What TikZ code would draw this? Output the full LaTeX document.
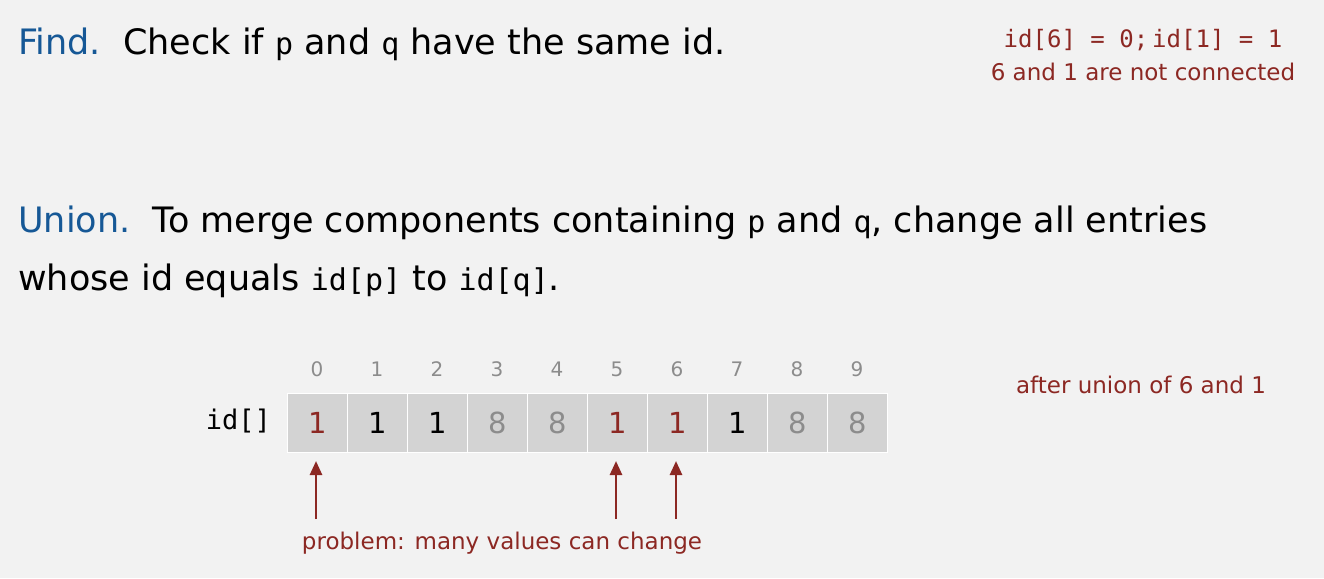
\documentclass[tikz,border=0pt]{standalone}
\usepackage{fontspec}
\setmainfont{DejaVu Sans}
\setsansfont{DejaVu Sans}
\setmonofont{DejaVu Sans Mono}
\usetikzlibrary{arrows.meta}
\definecolor{bg}{RGB}{242,242,242}
\definecolor{cellgray}{RGB}{211,211,211}
\definecolor{hdblue}{RGB}{22,88,150}
\definecolor{darkred}{RGB}{140,40,35}
\definecolor{idxgray}{RGB}{140,140,140}
\definecolor{valgray}{RGB}{140,140,140}
\tikzset{
  txt/.style={inner sep=0pt, anchor=base west, font=\fontsize{35}{40}\selectfont},
  note/.style={inner sep=0pt, anchor=base, text=darkred, font=\fontsize{23}{28}\selectfont},
  cell/.style={draw=white, line width=1.2pt, fill=cellgray, minimum width=60pt, minimum height=59pt, inner sep=0pt, anchor=north west},
  idx/.style={inner sep=0pt, text=idxgray, font=\fontsize{20}{24}\selectfont},
  val/.style={inner sep=0pt, font=\fontsize{29}{34}\selectfont},
  redv/.style={val, text=darkred},
  blkv/.style={val, text=black},
  grayv/.style={val, text=valgray},
  redarrow/.style={draw=darkred, line width=2.6pt, -{Triangle[length=14pt,width=12pt]}},
}
\newcommand{\mtt}[1]{{\ttfamily\fontsize{30}{34}\selectfont #1}}
\begin{document}
\begin{tikzpicture}[x=1pt,y=-1pt]
\fill[bg] (0,0) rectangle (1324,578);
\useasboundingbox (0,0) rectangle (1324,578);

\node[txt] (find) at (18,55) {\textcolor{hdblue}{Find.}\ \ Check if \mtt{p} and \mtt{q} have the same id.};
\node[note] (n1) at (1143,48) {\ttfamily\fontsize{24}{28}\selectfont id[6] = 0;\,id[1] = 1};
\node[note] (n2) at (1143,80) {6 and 1 are not connected};

\node[txt] (union1) at (18,232) {\textcolor{hdblue}{Union.}\ \ To merge components containing \mtt{p} and \mtt{q}, change all entries};
\node[txt] (union2) at (18,290) {whose id equals \mtt{id[p]} to \mtt{id[q]}.};

\node[inner sep=0pt, anchor=east, font=\ttfamily\fontsize{27}{30}\selectfont] (idlbl) at (271,421) {id[]};

\foreach \i/\v/\s in {0/1/redv,1/1/blkv,2/1/blkv,3/8/grayv,4/8/grayv,5/1/redv,6/1/redv,7/1/blkv,8/8/grayv,9/8/grayv}{
  \node[cell] (c\i) at ({287+60*\i},393) {};
  \node[\s] (v\i) at (c\i.center) {\v};
  \node[idx] (i\i) at ({317+60*\i},369) {\i};
}

\node[note, anchor=base] (after) at (1141,393) {after union of 6 and 1};

\node[note, anchor=base] (prob) at (502,549) {problem: many values can change};
\foreach \i/\x in {0/316,5/616,6/676}{
  \coordinate (a\i) at (\x,519);
  \coordinate (t\i) at (\x,461);
  \draw[redarrow] (a\i) -- (t\i);
}
\end{tikzpicture}
\end{document}
